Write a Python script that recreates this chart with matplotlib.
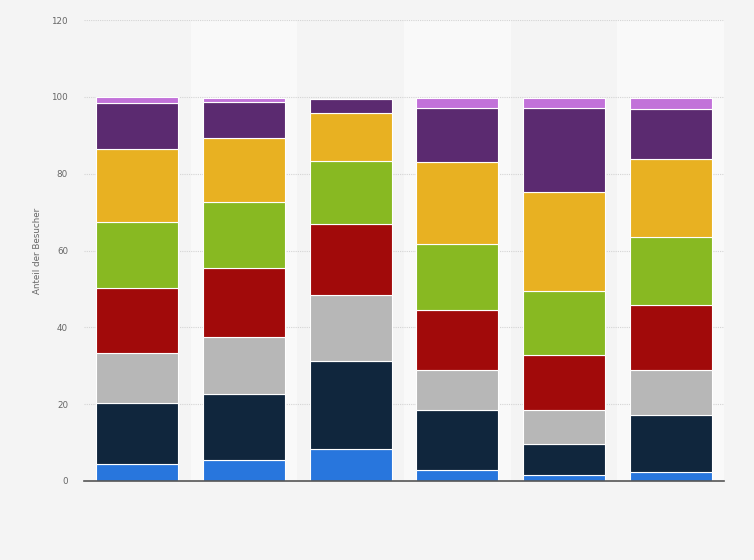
import matplotlib
matplotlib.use("Agg")
import matplotlib.pyplot as plt
import numpy as np

# Werte je Balken (von unten nach oben)
kategorien = ["1", "2", "3", "4", "5", "6"]
blau = [4.4, 5.5, 8.3, 2.8, 1.5, 2.3]
dunkelblau = [15.9, 17.2, 22.9, 15.6, 8.1, 14.9]
grau = [13.1, 14.9, 17.2, 10.4, 8.9, 11.7]
rot = [16.9, 17.9, 18.4, 15.7, 14.3, 16.9]
gruen = [17.0, 17.0, 16.6, 17.2, 16.7, 17.6]
gelb = [19.0, 16.9, 12.5, 21.4, 25.6, 20.5]
lila = [12.0, 9.3, 3.6, 14.0, 22.0, 13.0]
flieder = [1.7, 1.0, 0.0, 2.6, 2.6, 2.8]

serien = [blau, dunkelblau, grau, rot, gruen, gelb, lila, flieder]
farben = ["#2876dd", "#10263d", "#b7b7b7", "#a10a0a",
          "#88b922", "#e8b122", "#5b2a70", "#c272d9"]

y_ticks = [0, 20, 40, 60, 80, 100, 120]

fig = plt.figure(figsize=(7.54, 5.60), dpi=100)
fig.patch.set_facecolor("#f4f4f4")
ax = fig.add_axes([84/754, 1-481/560, 640/754, 461/560])
ax.set_facecolor("none")

x = np.arange(len(kategorien))
for i in x:
    if i % 2 == 1:
        ax.axvspan(i-0.5, i+0.5, color="#f9f9f9", zorder=0, lw=0)

unten = np.zeros(len(kategorien))
for werte, farbe in zip(serien, farben):
    werte = np.array(werte)
    ax.bar(x, werte, bottom=unten, width=0.77, color=farbe,
           edgecolor="#ffffff", linewidth=0.8, zorder=3)
    unten += werte

ax.set_xlim(-0.5, len(kategorien)-0.5)
ax.set_ylim(0, 120)
ax.set_yticks(y_ticks)
ax.set_yticklabels([str(t) for t in y_ticks])
ax.set_xticks([])
ax.tick_params(axis="y", length=0, pad=11.5, labelsize=6.3, labelcolor="#666666")
ax.grid(axis="y", linestyle=(0, (1, 1)), color="#d4d4d4", linewidth=0.8, zorder=1)
for s in ["top", "right", "left"]:
    ax.spines[s].set_visible(False)
ax.spines["bottom"].set_color("#555555")
ax.spines["bottom"].set_linewidth(1.2)
ax.spines["bottom"].set_zorder(4)
ax.set_ylabel("Anteil der Besucher", fontsize=6.3, color="#666666", labelpad=7)

fig.savefig("out.png", dpi=100, facecolor=fig.get_facecolor())
